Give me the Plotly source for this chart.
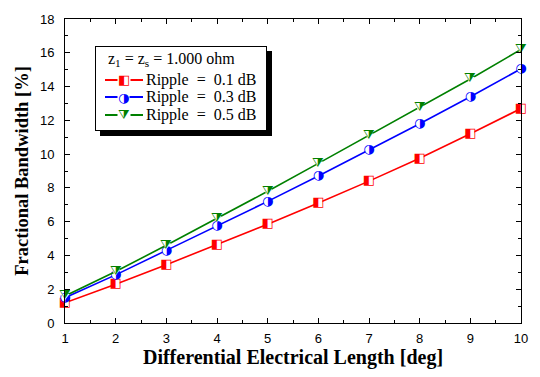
import plotly.graph_objects as go

x_vals = [1, 2, 3, 4, 5, 6, 7, 8, 9, 10]
ripple_01 = [1.2, 2.3, 3.45, 4.65, 5.85, 7.1, 8.4, 9.75, 11.2, 12.7]
ripple_03 = [1.5, 2.85, 4.3, 5.75, 7.2, 8.7, 10.25, 11.8, 13.4, 15.05]
ripple_05 = [1.6, 3.05, 4.6, 6.2, 7.8, 9.45, 11.1, 12.75, 14.45, 16.2]

names = ["Ripple\u00a0\u00a0=\u00a0\u00a00.1 dB", "Ripple\u00a0\u00a0=\u00a0\u00a00.3 dB", "Ripple\u00a0\u00a0=\u00a0\u00a00.5 dB"]
colors = ["#ff0000", "#0000ff", "#008000"]
symbols = ["square", "circle", "triangle-down"]
glyphs = ["\u25E7", "\u25D1", "\u29E9"]
series = [ripple_01, ripple_03, ripple_05]

SERIF = "Liberation Serif, Times New Roman, serif"
SANS = "Liberation Sans, Arial, sans-serif"
GLYPH_FONT = "DejaVu Sans"

fig = go.Figure()
for ys, nm, c, s, g in zip(series, names, colors, symbols, glyphs):
    fig.add_trace(go.Scatter(
        x=x_vals, y=ys, name=nm, mode="lines+markers",
        line=dict(color=c, width=1.6),
        marker=dict(symbol=s, size=8, color="white", line=dict(width=0)),
        showlegend=False, cliponaxis=False,
    ))
    fig.add_trace(go.Scatter(
        x=x_vals, y=ys, mode="text", text=[g] * len(x_vals),
        textposition="middle center",
        textfont=dict(family=GLYPH_FONT, size=13, color=c),
        showlegend=False, cliponaxis=False, hoverinfo="skip",
    ))

axis_common = dict(
    showline=True, linecolor="black", linewidth=1, mirror="allticks",
    ticks="inside", ticklen=5, tickcolor="black", tickwidth=1,
    showgrid=False, zeroline=False,
    tickfont=dict(family=SANS, size=13, color="black"),
)

fig.update_xaxes(
    range=[1, 10], dtick=1, tick0=1, ticklabelstandoff=3,
    minor=dict(ticks="inside", ticklen=3, dtick=0.5, tick0=1, tickcolor="black"),
    title=dict(text="<b>Differential Electrical Length [deg]</b>",
               font=dict(family=SERIF, size=20, color="black"), standoff=4),
    **axis_common,
)
fig.update_yaxes(
    range=[0, 18], dtick=2, ticklabelstandoff=7,
    minor=dict(ticks="inside", ticklen=3, dtick=1, tickcolor="black"),
    title=dict(text="<b>Fractional Bandwidth [%]</b>",
               font=dict(family=SERIF, size=18.5, color="black"), standoff=6),
    **axis_common,
)

# ---- custom legend (box with drop shadow), built from annotations ----
L, R, T, B = 65, 524, 12, 323
def px(xp):
    return (xp - L) / (R - L)
def py(yp):
    return (B - yp) / (B - T)

bx0, by0, bw, bh = 95, 40, 172, 85
fig.add_annotation(xref="paper", yref="paper", x=px(bx0 + 5), y=py(by0 + 5),
                   xanchor="left", yanchor="top", showarrow=False,
                   text="\u00a0", width=bw, height=bh, bgcolor="black",
                   borderpad=0, borderwidth=0)
fig.add_annotation(xref="paper", yref="paper", x=px(bx0), y=py(by0),
                   xanchor="left", yanchor="top", showarrow=False,
                   text="\u00a0", width=bw - 2, height=bh - 2, bgcolor="white",
                   bordercolor="black", borderpad=0, borderwidth=1)

fig.add_annotation(xref="paper", yref="paper", x=px(106), y=py(53),
                   xanchor="left", yanchor="middle", showarrow=False,
                   text="z<sub>1</sub> = z<sub>s</sub> = 1.000 ohm",
                   font=dict(family=SERIF, size=16, color="black"))
row_y = [74, 92, 110]
for ry, nm, c, g in zip(row_y, names, colors, glyphs):
    fig.add_annotation(xref="paper", yref="paper", x=px(105), y=py(ry),
                       xanchor="left", yanchor="middle", showarrow=False,
                       text="\u00a0", width=38, height=1.6, bgcolor=c,
                       borderpad=0, borderwidth=0, font=dict(size=1))
    fig.add_annotation(xref="paper", yref="paper", x=px(124), y=py(ry),
                       xanchor="center", yanchor="middle", showarrow=False,
                       text=g, bgcolor="white", borderpad=0,
                       font=dict(family=GLYPH_FONT, size=13, color=c))
    fig.add_annotation(xref="paper", yref="paper", x=px(145), y=py(ry),
                       xanchor="left", yanchor="middle", showarrow=False,
                       text=nm, font=dict(family=SERIF, size=16, color="black"))

fig.update_layout(
    width=540, height=377,
    margin=dict(l=65, r=16, t=12, b=54),
    paper_bgcolor="white", plot_bgcolor="white",
    showlegend=False,
)

fig.write_html("out.html")
